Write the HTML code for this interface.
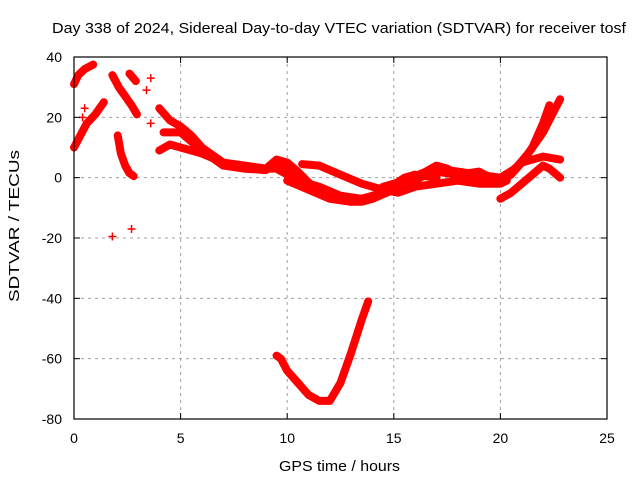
<!DOCTYPE html>
<html><head><meta charset="utf-8"><style>
body{margin:0;background:#fff}
svg{display:block;font-family:"Liberation Sans",sans-serif}
</style></head><body>
<svg id="chart" width="640" height="480" viewBox="0 0 640 480">
<text x="52" y="33" font-size="15" textLength="574" lengthAdjust="spacingAndGlyphs">Day 338 of 2024, Sidereal Day-to-day VTEC variation (SDTVAR) for receiver tosf</text>
<text x="279" y="471" font-size="15" textLength="121" lengthAdjust="spacingAndGlyphs">GPS time / hours</text>
<text transform="translate(19,302) rotate(-90)" font-size="15" textLength="152" lengthAdjust="spacingAndGlyphs">SDTVAR / TECUs</text>
<g id="grid"></g><g id="series"></g><g id="axes"></g>
</svg>
<script>
const xTicks=[0,5,10,15,20,25];
const yTicks=[40,20,0,-20,-40,-60,-80];
const s1x=[0,0.2,0.5,0.9]; const s1y=[31,34,36,37.5];
const s2x=[0,0.3,0.6,1.0,1.4]; const s2y=[10,14,18,21,25];
const s3x=[1.8,2.1,2.4,2.7,2.95]; const s3y=[34,30,27,24,21];
const s4x=[2.05,2.2,2.4,2.6,2.8]; const s4y=[14,8,4,1.5,0.5];
const s5x=[2.6,2.9]; const s5y=[34.5,32];
const s6x=[4,4.5,5,5.5,6,7,8,9,9.5,10,10.5,11.5,12.5,13.5,14.5,15,16,17,18,19,20,20.5,21,21.5,22,22.3];
const s6y=[23,19,17,14,10,5,3,2.5,5,2,-1,-3,-6,-7,-5,-3,0,2,1,0,-1,1,5,10,18,24];
const s7x=[4.2,5,5.5,6,7,8,9.5,10,11,12,13,14,15,16,17,18,19,20,20.7,21.3,22,22.8];
const s7y=[15,15,12,9,4,3,3,1,-2,-5,-7,-7,-4,-1,3,2,1,0,3,8,15,26];
const s8x=[4,4.5,5,6,7,8,9,9.5,10,10.5,11.2,12,13,14,14.5,15.5,16.5,17,17.5,18,19,19.8,20.5,21,22,22.8];
const s8y=[9,11,10,8,5,4,3,6,5,2,-3,-6,-8,-7,-3,-1,2,4,3,1,2,-1,2,5,7,6];
const s9x=[10.7,11.5,12.5,13.5,14.5,15.2,16,17,18,19,20,20.3];
const s9y=[4.5,4,1,-2,-4,-5,-3,-2,-1,-2,-2,-1];
const s10x=[10,11,12,13,13.5,14,15.5,16,17];
const s10y=[-1,-4,-7,-8,-8,-7,0,1,0];
const s11x=[20,20.5,21,21.5,22,22.3,22.8];
const s11y=[-7,-5,-2,1,4,3,0];
const s12x=[9.5,9.7,10,10.5,11,11.5,12,12.5,13,13.5,13.8];
const s12y=[-59,-60,-64,-68,-72,-74,-74,-68,-58,-47,-41];
const isoX=[1.8,2.7,3.4,3.6,3.6,0.4,0.5];
const isoY=[-19.5,-17,29,33,18,20,23];
const seriesX=[s1x,s2x,s3x,s4x,s5x,s6x,s7x,s8x,s9x,s10x,s11x,s12x];
const seriesY=[s1y,s2y,s3y,s4y,s5y,s6y,s7y,s8y,s9y,s10y,s11y,s12y];
const L=74,R=607,T=57,B=419;
const X=h=>L+h/25*(R-L), Y=v=>T+(40-v)/120*(B-T);
const NS='http://www.w3.org/2000/svg';
function mk(t,a,p){const e=document.createElementNS(NS,t);for(const k in a)e.setAttribute(k,a[k]);p.appendChild(e);return e;}
const g=document.getElementById('grid'),ax=document.getElementById('axes'),sg=document.getElementById('series');
xTicks.forEach(t=>{
 if(t>0&&t<25){const l=mk('line',{x1:X(t),x2:X(t),y1:T,y2:B,stroke:'#a0a0a0','stroke-dasharray':'3,4'},g);
 
 }
 const tx=mk('text',{x:X(t),y:B+24,'font-size':14,'text-anchor':'middle'},ax);tx.textContent=t;
 
 
 mk('line',{x1:X(t),x2:X(t),y1:B,y2:B-6,stroke:'#000'},ax);mk('line',{x1:X(t),x2:X(t),y1:T,y2:T+6,stroke:'#000'},ax);
});
yTicks.forEach(t=>{
 if(t<40&&t>-80){const l=mk('line',{x1:L,x2:R,y1:Y(t),y2:Y(t),stroke:'#a0a0a0','stroke-dasharray':'3,4'},g);
 
 }
 const tx=mk('text',{x:L-12,y:Y(t)+5,'font-size':14,'text-anchor':'end'},ax);tx.textContent=t;
 
 
 mk('line',{x1:L,x2:L+6,y1:Y(t),y2:Y(t),stroke:'#000'},ax);mk('line',{x1:R,x2:R-6,y1:Y(t),y2:Y(t),stroke:'#000'},ax);
});
const box=mk('rect',{x:L,y:T,width:R-L,height:B-T,fill:'none',stroke:'#000','stroke-width':1.2},ax);


seriesX.forEach((xs,i)=>{
 const ys=seriesY[i];
 const p=mk('polyline',{points:xs.map((x,j)=>X(x)+','+Y(ys[j])).join(' '),fill:'none',stroke:'#f00','stroke-width':8,'stroke-linejoin':'round','stroke-linecap':'round'},sg);
 
 
});
isoX.forEach((x,i)=>{
 const m=mk('path',{d:`M${X(x)-4},${Y(isoY[i])}h8M${X(x)},${Y(isoY[i])-4}v8`,stroke:'#f00','stroke-width':1.5},sg);
 
 
});
</script>
</body></html>
